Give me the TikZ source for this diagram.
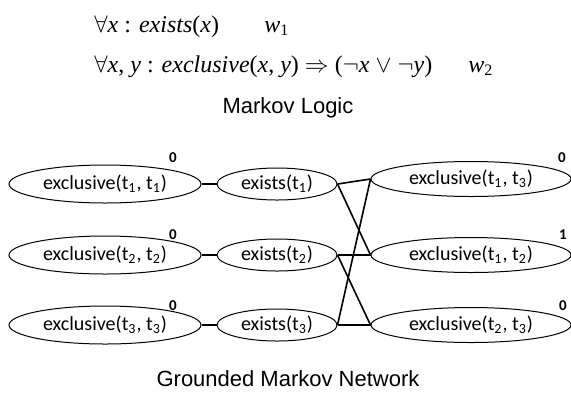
\documentclass[tikz,border=0pt]{standalone}
\usepackage{fontspec}
\usetikzlibrary{shapes.geometric}
\newfontfamily\calib{Carlito}
\newfontfamily\arialf{Liberation Sans}
\newfontfamily\tnr{Liberation Serif}
\newcommand{\tsub}[1]{\textsubscript{#1}}

\begin{document}
\begin{tikzpicture}[x=0.5pt,y=0.5pt,yscale=-1,xscale=1,
  formula/.style={anchor=base west,inner sep=0pt,font=\tnr\fontsize{12}{14}\selectfont},
  caption/.style={anchor=base,inner sep=0pt,font=\arialf\fontsize{11}{13}\selectfont},
  atom/.style={ellipse,draw,line width=0.5pt,inner sep=0pt,font=\calib\fontsize{10}{12}\selectfont},
  leftatom/.style={atom,minimum width=96pt,minimum height=19pt},
  midatom/.style={atom,minimum width=60pt,minimum height=16pt},
  rightatom/.style={atom,minimum width=100pt,minimum height=17.5pt},
  truth/.style={inner sep=0pt,font=\calib\bfseries\fontsize{7.5}{9}\selectfont},
  factor/.style={line width=0.8pt}]
\useasboundingbox (0,0) rectangle (571,397);
% Text Node
\node [formula] (rule1) at (94,32) {$\forall$\textit{x} : \textit{exists}(\textit{x})};
% Text Node
\node [formula] (weight1) at (264,32) {\textit{w}\tsub{1}};
% Text Node
\node [formula] (rule2) at (94,72) {$\forall$\textit{x}, \textit{y} : \textit{exclusive}(\textit{x}, \textit{y}) $\Rightarrow$ ($\neg$\textit{x} $\vee$ $\neg$\textit{y})};
% Text Node
\node [formula] (weight2) at (468,72) {\textit{w}\tsub{2}};
% Text Node
\node [caption] (mlcap) at (288,113) {Markov Logic};
%Shape: Ellipse
\node [leftatom] (ex11) at (105,184) {exclusive(t\tsub{1}, t\tsub{1})};
\node [leftatom] (ex22) at (105,255) {exclusive(t\tsub{2}, t\tsub{2})};
\node [leftatom] (ex33) at (105,325) {exclusive(t\tsub{3}, t\tsub{3})};
%Shape: Ellipse
\node [midatom] (exists1) at (277,184) {exists(t\tsub{1})};
\node [midatom] (exists2) at (277,255) {exists(t\tsub{2})};
\node [midatom] (exists3) at (277,325) {exists(t\tsub{3})};
%Shape: Ellipse
\node [rightatom] (ex13) at (471,179) {exclusive(t\tsub{1}, t\tsub{3})};
\node [rightatom] (ex12) at (471,255) {exclusive(t\tsub{1}, t\tsub{2})};
\node [rightatom] (ex23) at (471,325) {exclusive(t\tsub{2}, t\tsub{3})};
% Text Node
\node [truth] (val11) at (173,158) {0};
\node [truth] (val22) at (173,235) {0};
\node [truth] (val33) at (173,306) {0};
\node [truth] (val13) at (562,158) {0};
\node [truth] (val12) at (563,235) {1};
\node [truth] (val23) at (563,306) {0};
%Straight Lines
\draw [factor] (ex11.east) -- (exists1.west);
\draw [factor] (ex22.east) -- (exists2.west);
\draw [factor] (ex33.east) -- (exists3.west);
%Straight Lines
\draw [factor] (exists1.east) -- (ex13.west);
\draw [factor] (exists1.east) -- (ex12.west);
\draw [factor] (exists2.east) -- (ex12.west);
\draw [factor] (exists2.east) -- (ex23.west);
\draw [factor] (exists3.east) -- (ex13.west);
\draw [factor] (exists3.east) -- (ex23.west);
% Text Node
\node [caption] (gmncap) at (288,386) {Grounded Markov Network};
\end{tikzpicture}
\end{document}
